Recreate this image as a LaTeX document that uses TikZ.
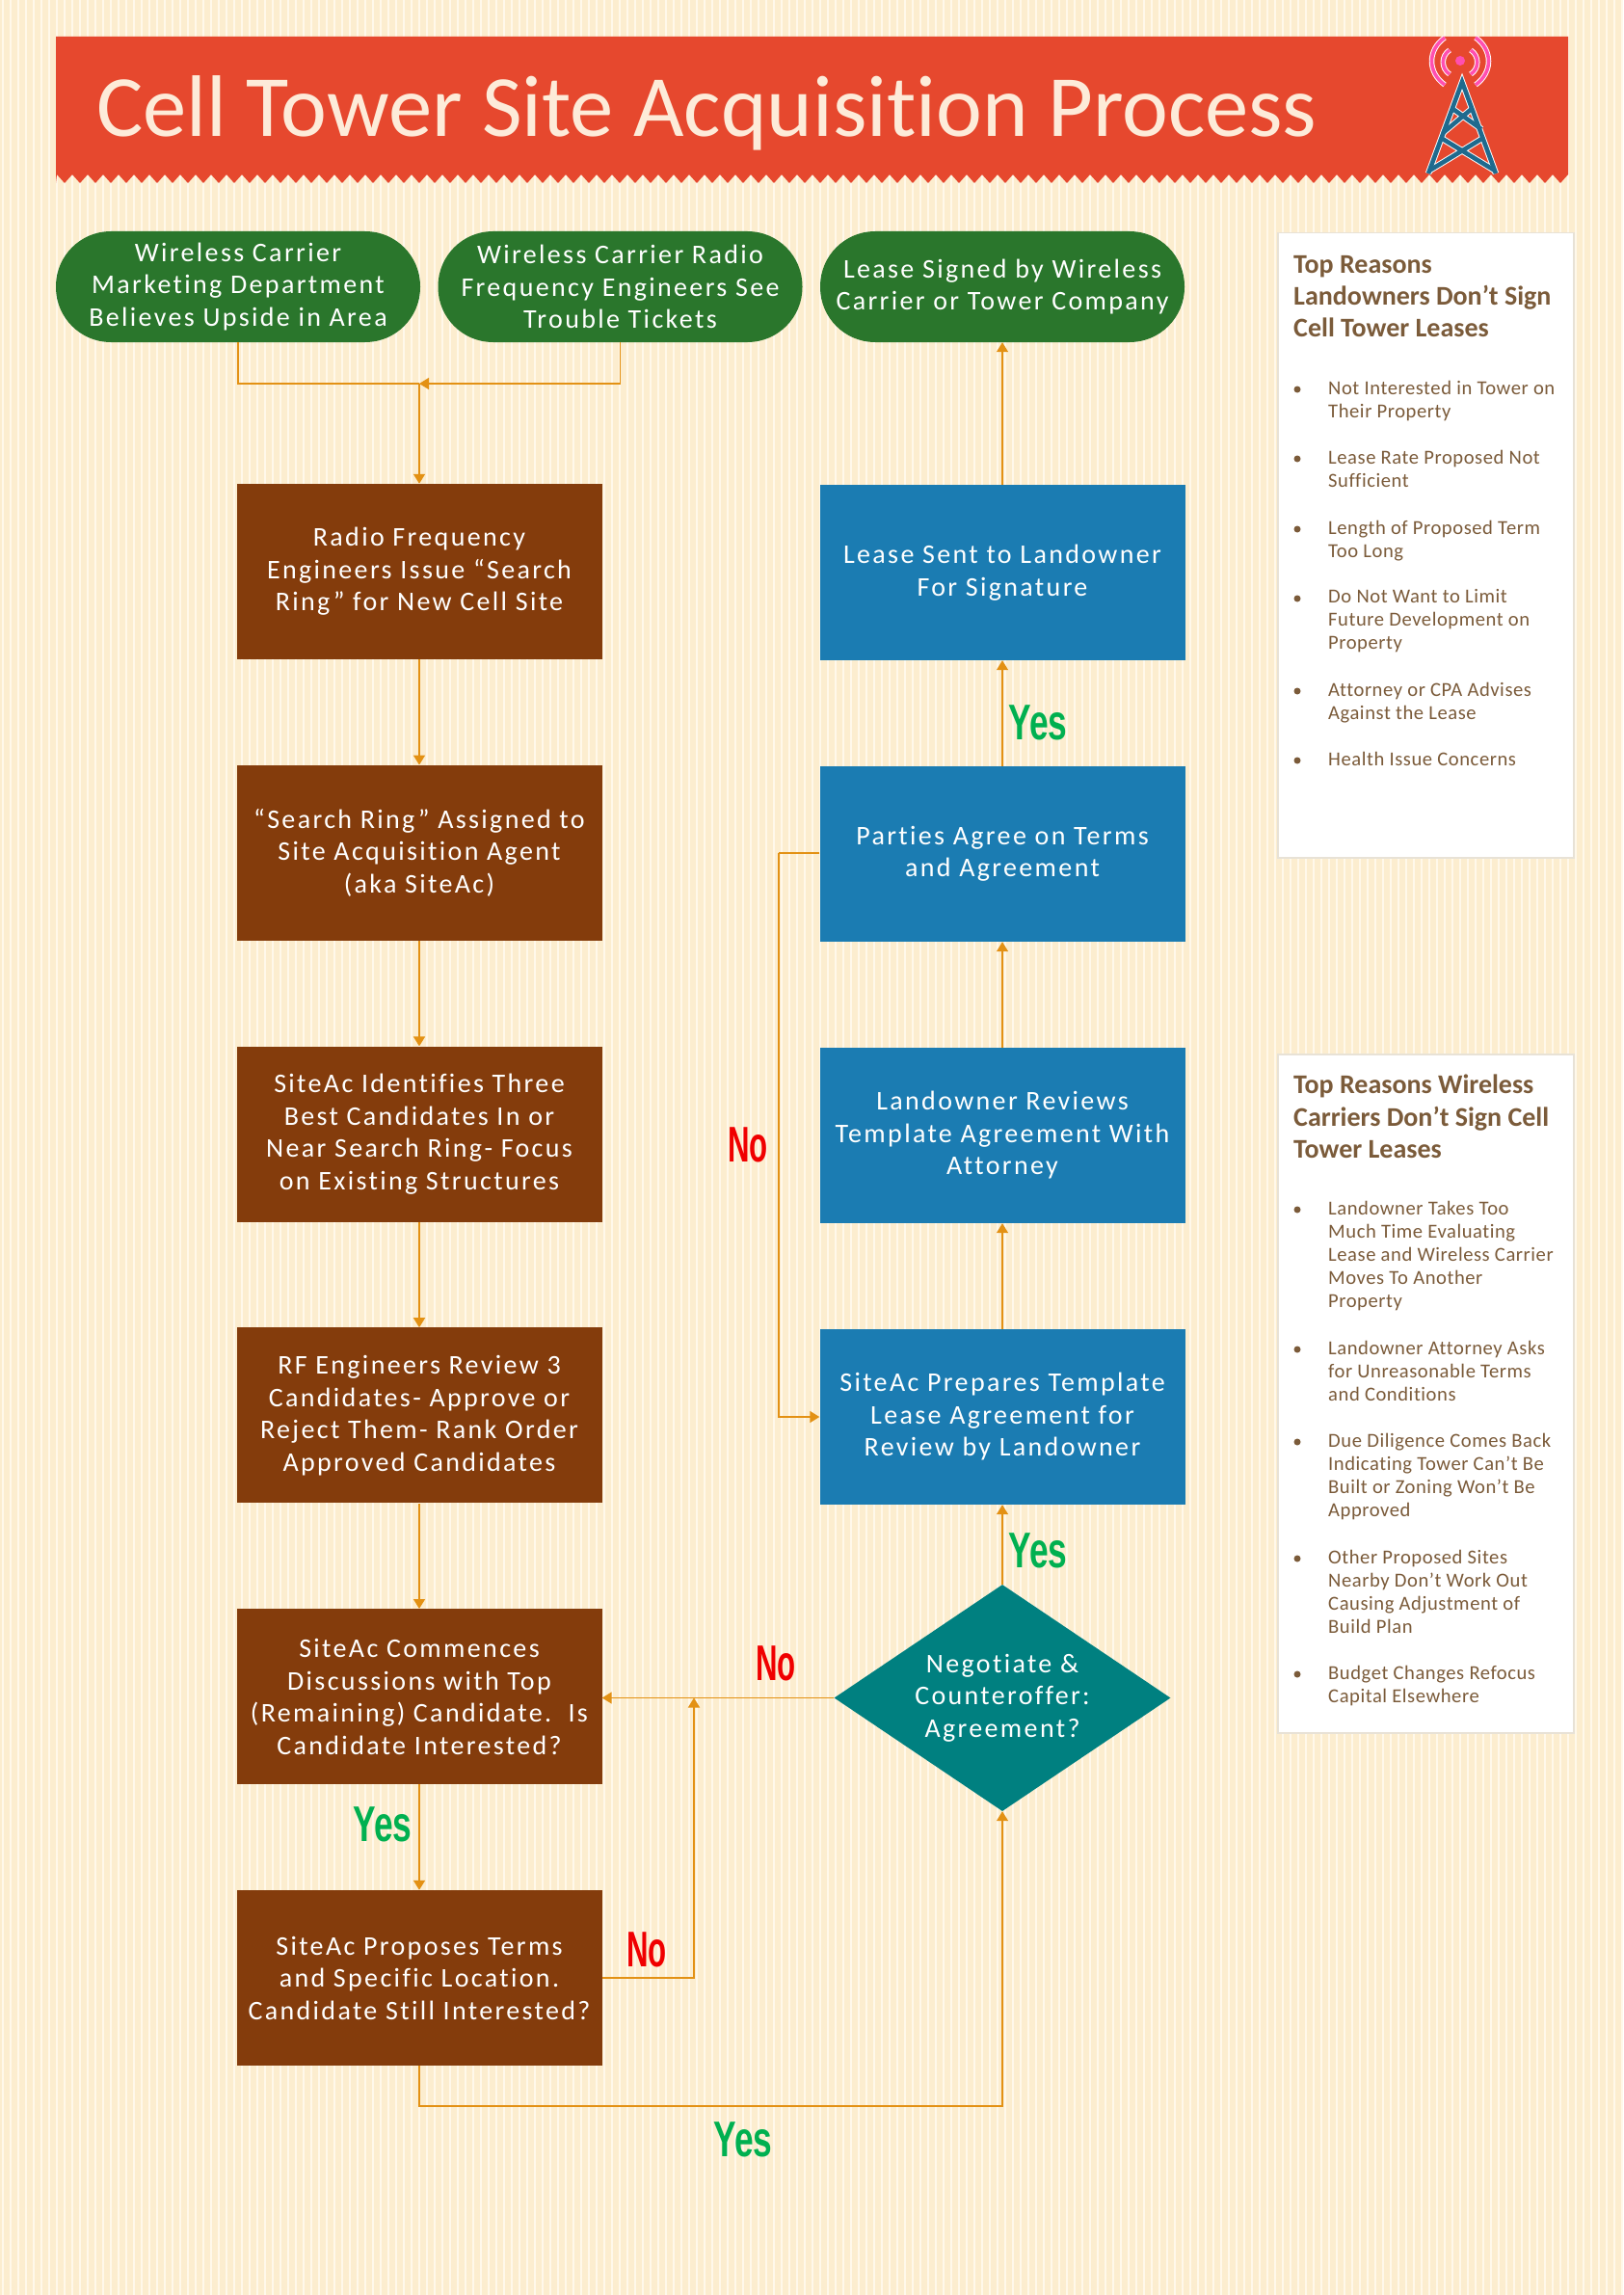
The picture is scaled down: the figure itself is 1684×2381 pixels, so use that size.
\documentclass[tikz,border=0pt]{standalone}
\usepackage{fontspec}
\usepackage{xcolor}
\usetikzlibrary{shapes.geometric,arrows.meta,positioning}
\setmainfont{Carlito}[Ligatures=NoCommon]
\newfontfamily\boxfont[LetterSpace=8.4,Ligatures=NoCommon]{Carlito}
\newfontfamily\listfont[LetterSpace=2.7,Ligatures=NoCommon]{Carlito}
\newfontfamily\yesfont[FakeStretch=0.68]{Liberation Sans}
\newfontfamily\nofont[FakeStretch=0.6]{Liberation Sans}
\definecolor{pagebg}{HTML}{FCEDCF}
\definecolor{pageline}{HTML}{FFF8EA}
\definecolor{banner}{HTML}{E6482E}
\definecolor{titletxt}{HTML}{FDEBD9}
\definecolor{startgreen}{HTML}{2A762C}
\definecolor{stepbrown}{HTML}{843C0C}
\definecolor{stepblue}{HTML}{1B7CB2}
\definecolor{teal}{HTML}{008080}
\definecolor{flow}{HTML}{E39114}
\definecolor{paneltxt}{HTML}{7B5B3A}
\definecolor{panelline}{HTML}{E8E2D6}
\definecolor{towerblue}{HTML}{1F6A8E}
\definecolor{signalpink}{HTML}{FF4FB0}
\definecolor{yescol}{HTML}{00B050}
\definecolor{nocol}{HTML}{F00000}

\begin{document}
\begin{tikzpicture}[
  x=1pt,y=-1pt,
  pill/.style={fill=startgreen,rounded corners=57pt,minimum width=378pt,minimum height=115pt,
    inner sep=0pt,align=center,text=white,font=\boxfont\fontsize{28}{33.5}\selectfont,
    execute at begin node={\rule{0pt}{36pt}}},
  brownbox/.style={fill=stepbrown,minimum width=379pt,minimum height=182pt,
    inner sep=0pt,align=center,text=white,font=\boxfont\fontsize{28}{33.5}\selectfont,
    execute at begin node={\rule{0pt}{36pt}}},
  bluebox/.style={brownbox,fill=stepblue},
  decide/.style={diamond,fill=teal,aspect=1.485,minimum width=349pt,minimum height=235pt,
    inner sep=0pt,align=center,text=white,font=\boxfont\fontsize{28}{33.5}\selectfont},
  arr/.style={-{Triangle[length=10pt,width=12pt]},line width=1.5pt,flow},
  lin/.style={line width=1.5pt,flow},
  yes/.style={inner sep=0pt,text=yescol,font=\yesfont\bfseries\fontsize{52}{52}\selectfont},
  no/.style={inner sep=0pt,text=nocol,font=\nofont\bfseries\fontsize{52}{52}\selectfont},
  panel/.style={draw=panelline,line width=1.5pt,fill=white,anchor=north west,minimum width=307pt,inner sep=0pt},
  head/.style={anchor=north west,inner sep=0pt,align=left,text=paneltxt,font=\bfseries\fontsize{28}{33.3}\selectfont},
  reason/.style={anchor=north west,inner sep=0pt,align=left,text=paneltxt,font=\listfont\fontsize{20.6}{24}\selectfont},
  dot/.style={circle,fill=paneltxt,inner sep=0pt,minimum size=7pt},
]
  % page
  \useasboundingbox (0,0) rectangle (1684,2381);
  \fill[pagebg] (0,0) rectangle (1684,2381);
  \foreach \xpos in {2,10,...,1682}
    \fill[pageline] (\xpos,0) rectangle ++(2,2381);

  % banner
  \fill[banner] (58,38) -- (1627,38) -- (1627,181)
    \foreach \k in {0,...,97} { -- ({1619-16*\k},190) -- ({1611-16*\k},181) } -- (58,190) -- cycle;
  \node[anchor=base west,inner sep=0pt,text=titletxt,font=\fontsize{90.6}{90}\selectfont] (title) at (100,142)
    {Cell Tower Site Acquisition Process};

  % tower
  \foreach \col/\wd in {white/6.5,towerblue/4.6} {
    \draw[\col,line width=\wd pt,line join=miter] (1482,180) -- (1517,85) -- (1552,180);
    \draw[\col,line width=\wd pt] (1495,143) -- (1551,177) (1539,143) -- (1483,177);
    \draw[\col,line width=\wd pt] (1506,112) -- (1537,134) (1528,112) -- (1497,138);
  }
  \foreach \col/\wd in {white/5.5,signalpink/3.6} {
    \draw[\col,line width=\wd pt] (1499,39) .. controls (1481,52) and (1481,75) .. (1499,88);
    \draw[\col,line width=\wd pt] (1531,39) .. controls (1549,52) and (1549,75) .. (1531,88);
    \draw[\col,line width=\wd pt] (1504,52) .. controls (1495,58) and (1495,71) .. (1504,77);
    \draw[\col,line width=\wd pt] (1526,52) .. controls (1535,58) and (1535,71) .. (1526,77);
  }
  \fill[signalpink] (1515,63) circle (5);

  % start and end
  \node[pill] (mkt) at (247,297.5) {Wireless Carrier\\Marketing Department\\Believes Upside in Area};
  \node[pill] (rfe) at (643.5,297.5) {Wireless Carrier Radio\\Frequency Engineers See\\Trouble Tickets};
  \node[pill] (signed) at (1040,297.5) {Lease Signed by Wireless\\Carrier or Tower Company};

  % left column
  \node[brownbox] (ring) at (435,593) {Radio Frequency\\Engineers Issue “Search\\Ring” for New Cell Site};
  \node[brownbox,below=109.4pt of ring] (agent) {“Search Ring” Assigned to\\Site Acquisition Agent\\(aka SiteAc)};
  \node[brownbox,below=109.4pt of agent] (three) {SiteAc Identifies Three\\Best Candidates In or\\Near Search Ring- Focus\\on Existing Structures};
  \node[brownbox,below=109.4pt of three] (review) {RF Engineers Review 3\\Candidates- Approve or\\Reject Them- Rank Order\\Approved Candidates};
  \node[brownbox,below=109.4pt of review] (talks) {SiteAc Commences\\Discussions with Top\\(Remaining) Candidate.\ \ Is\\Candidate Interested?};
  \node[brownbox,below=109.4pt of talks] (terms) {SiteAc Proposes Terms\\and Specific Location.\\Candidate Still Interested?};

  % right column
  \node[bluebox] (sent) at (1040,594) {Lease Sent to Landowner\\For Signature};
  \node[bluebox,below=109.6pt of sent] (agree) {Parties Agree on Terms\\and Agreement};
  \node[bluebox,below=109.6pt of agree] (attorney) {Landowner Reviews\\Template Agreement With\\Attorney};
  \node[bluebox,below=109.6pt of attorney] (template) {SiteAc Prepares Template\\Lease Agreement for\\Review by Landowner};
  \node[decide] (nego) at (1040,1761.5) {Negotiate \&\\Counteroffer:\\Agreement?};

  % connectors
  \coordinate (join) at (435,398);
  \draw[lin] (mkt.south) |- (join);
  \draw[arr] (rfe.south) |- (join);
  \draw[arr] (join) -- (ring);
  \draw[arr] (ring) -- (agent);
  \draw[arr] (agent) -- (three);
  \draw[arr] (three) -- (review);
  \draw[arr] (review) -- (talks);
  \draw[arr] (talks) -- (terms);
  \draw[arr] (nego) -- (talks.east |- nego);
  \coordinate (nojoin) at (720,1761.5);
  \draw[arr] (terms.east |- 0,2052) -| (nojoin);
  \coordinate (lowturn) at (435,2185);
  \draw[arr] (terms.south) -- (lowturn) -| (nego.south);
  \draw[arr] (nego) -- (template);
  \draw[arr] (template) -- (attorney);
  \draw[arr] (attorney) -- (agree);
  \draw[arr] (agree) -- (sent);
  \draw[arr] (sent) -- (signed);
  \coordinate (backturn) at (808,885);
  \draw[lin] (agree.west |- backturn) -- (backturn);
  \draw[arr] (backturn) |- (template.west);

  % answers
  \node[yes] (yes1) at (1077,750) {Yes};
  \node[yes] (yes2) at (1077,1609) {Yes};
  \node[yes] (yes3) at (397,1893) {Yes};
  \node[yes] (yes4) at (771,2220) {Yes};
  \node[no] (no1) at (776,1188) {No};
  \node[no] (no2) at (805,1726) {No};
  \node[no] (no3) at (671,2023) {No};

  % side panels
  \node[panel,minimum height=648pt] (paneltop) at (1325,241) {};
  \node[head] (headtop) at (1342,265) {Top Reasons\\Landowners Don’t Sign\\Cell Tower Leases};
  \foreach \ypos/\txt [count=\i] in {
    404/{Not Interested in Tower on\\Their Property},
    476/{Lease Rate Proposed Not\\Sufficient},
    549/{Length of Proposed Term\\Too Long},
    621/{Do Not Want to Limit\\Future Development on\\Property},
    717/{Attorney or CPA Advises\\Against the Lease},
    789/{Health Issue Concerns}} {
    \node[dot] (dota\i) at (1346,\ypos) {};
    \node[reason] (rsna\i) at (1378,\ypos-11+1.5) {\txt};
  }

  \node[panel,minimum height=704pt] (panellow) at (1325,1093) {};
  \node[head] (headlow) at (1342,1115) {Top Reasons Wireless\\Carriers Don’t Sign Cell\\Tower Leases};
  \foreach \ypos/\txt [count=\i] in {
    1255/{Landowner Takes Too\\Much Time Evaluating\\Lease and Wireless Carrier\\Moves To Another\\Property},
    1400/{Landowner Attorney Asks\\for Unreasonable Terms\\and Conditions},
    1496/{Due Diligence Comes Back\\Indicating Tower Can’t Be\\Built or Zoning Won’t Be\\Approved},
    1617/{Other Proposed Sites\\Nearby Don’t Work Out\\Causing Adjustment of\\Build Plan},
    1737/{Budget Changes Refocus\\Capital Elsewhere}} {
    \node[dot] (dotb\i) at (1346,\ypos) {};
    \node[reason] (rsnb\i) at (1378,\ypos-11+1.5) {\txt};
  }
\end{tikzpicture}
\end{document}
